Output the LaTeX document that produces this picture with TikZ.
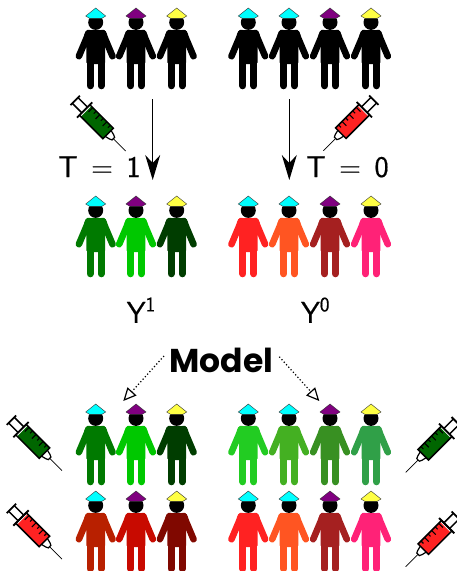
\documentclass[tikz,border=0pt]{standalone}
\usepackage{fontspec}
\usetikzlibrary{arrows.meta}
\newfontfamily\modelfont{Poppins}[BoldFont={Poppins Bold}]
\newfontfamily\labfont{Latin Modern Sans}[RawFeature={embolden=0.5}]
\definecolor{hatC}{HTML}{00FFFF}
\definecolor{hatP}{HTML}{800080}
\definecolor{hatY}{HTML}{FFFF44}
\definecolor{gN}{HTML}{007A00}\definecolor{gL}{HTML}{00C800}\definecolor{gK}{HTML}{003D00}
\definecolor{gA}{HTML}{22CC22}\definecolor{gB}{HTML}{44B022}\definecolor{gC}{HTML}{389022}\definecolor{gD}{HTML}{30A048}
\definecolor{rA}{HTML}{B82000}\definecolor{rB}{HTML}{C80A00}\definecolor{rC}{HTML}{800800}
\definecolor{sA}{HTML}{FF2222}\definecolor{sB}{HTML}{FF5522}\definecolor{sC}{HTML}{A52020}\definecolor{sD}{HTML}{FF2277}
\definecolor{synG}{HTML}{006600}
\newcommand{\person}[4]{% x, y of hat apex, hat colour, body colour
\begin{scope}[shift={(#1,#2)}]
  \fill[black] (0,14.4) circle (7.5);
  \draw[line width=.4,draw=black!80,fill=#3] (0,0) -- (10,8) -- (6,10.4) -- (-6,10.4) -- (-10,8) -- cycle;
  \fill[#4,rounded corners=1.5] (-9.5,22) -- (9.5,22) -- (12,28) -- (9.3,39) -- (9.3,56) -- (-9.3,56) -- (-9.3,39) -- (-12,28) -- cycle;
  \draw[#4,line width=6.6,line cap=round] (-7,25) -- (-16.8,48.2);
  \draw[#4,line width=6.6,line cap=round] (7,25) -- (16.8,48.2);
  \draw[#4,line width=7,line cap=round] (-5.4,50) -- (-5.4,77.8);
  \draw[#4,line width=7,line cap=round] (5.4,50) -- (5.4,77.8);
\end{scope}}
\newcommand{\syringe}[5]{% tip x, tip y, angle, side, colour
\begin{scope}[shift={(#1,#2)},rotate=#3,yscale=#4]
  \draw[line width=.7] (0,0) -- (18,0);
  \draw[line width=1.2,fill=white] (25,-4.2) -- (20,-3) -- (17.5,-1.8) -- (17.5,1.8) -- (20,3) -- (25,4.2);
  \draw[line width=1.5] (58,-4) -- (71,-4) (58,4) -- (71,4);
  \draw[line width=1.8] (71.5,-6.6) -- (71.5,6.6);
  \fill[#5] (24.8,-7.4) rectangle (56,7.4);
  \draw[line width=1.5] (24.8,-7.4) rectangle (58,7.4);
  \draw[line width=1.8] (58,-10.8) -- (58,10.8);
  \foreach \t/\l in {29/3.5,34/6,39/3.5,44/6,49/3.5,54/6}
    \draw[line width=1.1] (\t,7.4) -- (\t,7.4-\l);
\end{scope}}
\newcommand{\tlabel}[1]{T\hspace{13.5pt}=\hspace{13.5pt}#1}
\newcommand{\ylabel}[1]{Y\raisebox{11.5pt}{\fontsize{20.5}{20.5}\selectfont #1}}
\begin{document}
\begin{tikzpicture}[x=1pt,y=-1pt,
  lab/.style={font=\labfont\fontsize{30}{32}\selectfont,inner sep=0pt,text=black},
  solidarrow/.style={line width=1.3,-{Stealth[length=25pt,width=15pt,inset=8pt]}},
  modelarrow/.style={line width=1.2,dash pattern=on 1.2pt off 2.2pt,-{Triangle[open,length=13pt,width=12pt,line width=1.2pt]}}]
\useasboundingbox (0,0) rectangle (457,571);
% top row
\person{95.7}{8}{hatC}{black}
\person{136}{8}{hatP}{black}
\person{176.7}{8}{hatY}{black}
\person{248.3}{8}{hatC}{black}
\person{289}{8}{hatC}{black}
\person{330}{8}{hatP}{black}
\person{371}{8}{hatY}{black}
% observed outcomes
\person{95.7}{196}{hatC}{gN}
\person{136}{196}{hatP}{gL}
\person{176.7}{196}{hatY}{gK}
\person{248.3}{196}{hatC}{sA}
\person{289}{196}{hatC}{sB}
\person{330}{196}{hatP}{sC}
\person{371}{196}{hatY}{sD}
% model row 1
\person{95.7}{404}{hatC}{gN}
\person{136}{404}{hatP}{gL}
\person{176.7}{404}{hatY}{gK}
\person{248.3}{404}{hatC}{gA}
\person{289}{404}{hatC}{gB}
\person{330}{404}{hatP}{gC}
\person{371}{404}{hatY}{gD}
% model row 2
\person{95.7}{491}{hatC}{rA}
\person{136}{491}{hatP}{rB}
\person{176.7}{491}{hatY}{rC}
\person{248.3}{491}{hatC}{sA}
\person{289}{491}{hatC}{sB}
\person{330}{491}{hatP}{sC}
\person{371}{491}{hatY}{sD}
% syringes
\syringe{125.7}{151}{135}{1}{synG}
\syringe{323.3}{150.7}{45}{-1}{sA}
\syringe{62}{470.7}{135}{1}{synG}
\syringe{62}{559}{135}{1}{sA}
\syringe{405.7}{472.3}{45}{-1}{synG}
\syringe{405.7}{566.7}{45}{-1}{sA}
% labels
\node[lab,anchor=base] (t1) at (99.5,177) {\tlabel{1}};
\node[lab,anchor=base] (t0) at (347.5,177) {\tlabel{0}};
\node[lab,anchor=base] (y1) at (141,322.8) {\ylabel{1}};
\node[lab,anchor=base] (y0) at (315.3,322.8) {\ylabel{0}};
\node[inner sep=0pt,anchor=base,font=\modelfont\bfseries\fontsize{33}{35}\selectfont] (model) at (221.5,372) {Model};
% arrows
\coordinate (a1s) at (152.7,99); \coordinate (a1e) at (152.7,180);
\coordinate (a0s) at (289.3,99); \coordinate (a0e) at (289.3,180);
\coordinate (m1s) at (164,356); \coordinate (m1e) at (123.3,401);
\coordinate (m0s) at (279.3,356.7); \coordinate (m0e) at (319.3,401);
\draw[solidarrow] (a1s) -- (a1e);
\draw[solidarrow] (a0s) -- (a0e);
\draw[modelarrow] (m1s) -- (m1e);
\draw[modelarrow] (m0s) -- (m0e);
\end{tikzpicture}
\end{document}
